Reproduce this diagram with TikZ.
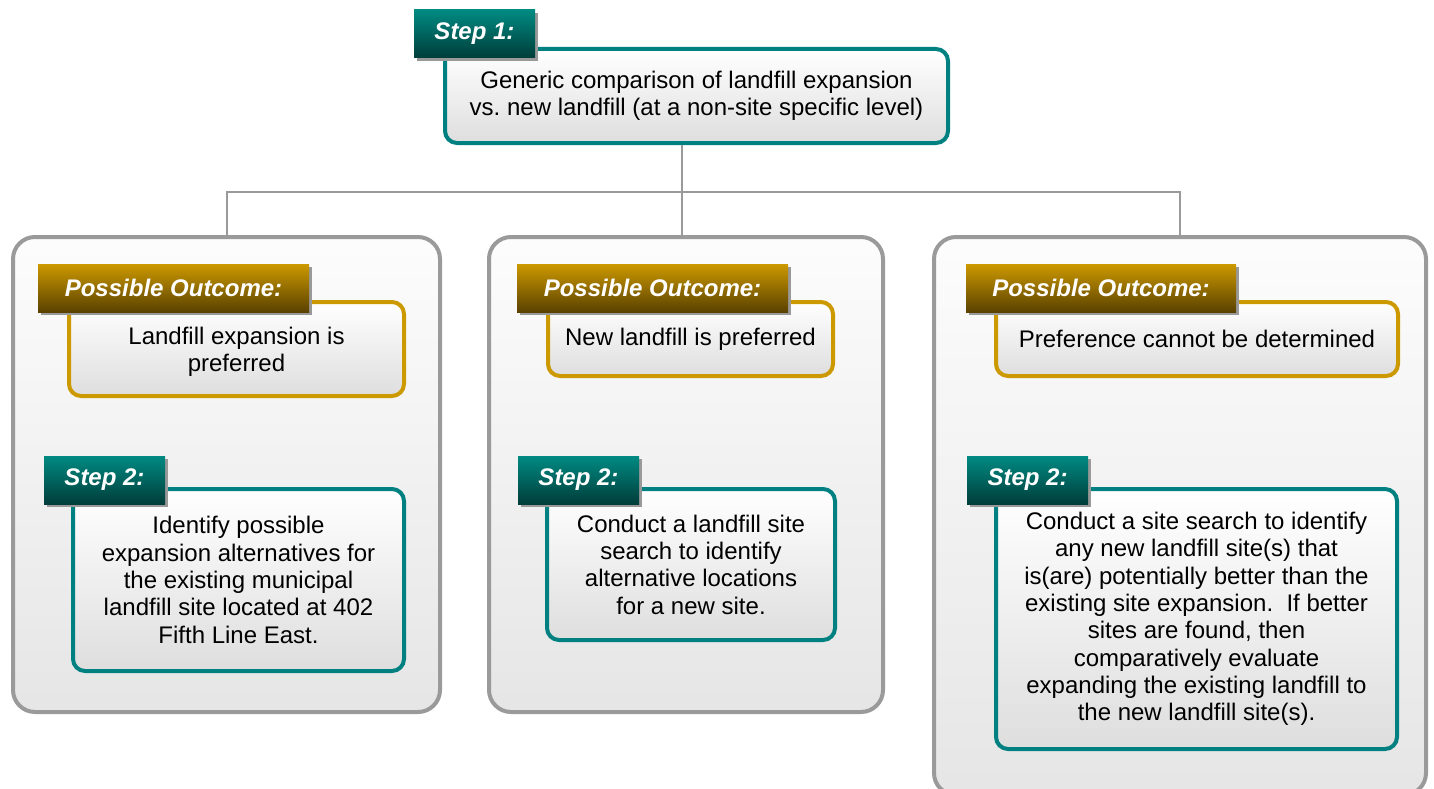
\documentclass[tikz,border=0pt]{standalone}
\usepackage{fontspec}
\setmainfont{Liberation Sans}
\usetikzlibrary{shadows}
\frenchspacing

\definecolor{tealline}{HTML}{008080}
\definecolor{teallight}{HTML}{008A82}
\definecolor{tealdark}{HTML}{003D3A}
\definecolor{goldline}{HTML}{CC9900}
\definecolor{golddark}{HTML}{5A4100}
\definecolor{frame}{HTML}{9A9A9A}

\begin{document}
\begin{tikzpicture}[
    x=1pt, y=-1pt,
    font=\fontsize{24}{27.3}\selectfont,
    column/.style={rectangle, draw=frame, line width=4pt, rounded corners=22pt, top color=black!1, bottom color=black!10},
    stepbox/.style={rectangle, draw=tealline, line width=4pt, rounded corners=12pt, align=center, top color=white, bottom color=black!13, inner sep=0pt},
    outcomebox/.style={stepbox, draw=goldline},
    steptag/.style={rectangle, minimum width=121pt, minimum height=48pt, inner sep=0pt, top color=teallight, bottom color=tealdark, text=white, font=\fontsize{24}{27.3}\selectfont\bfseries\itshape, drop shadow={shadow xshift=3pt, shadow yshift=-3pt, fill=black!40, opacity=1}},
    outcometag/.style={steptag, minimum width=271pt, top color=goldline, bottom color=golddark},
    link/.style={draw=frame, line width=2pt}
]
\useasboundingbox (0,0) rectangle (1434,789);

% columns
\node[column, minimum width=427pt, minimum height=475pt] (colA) at (226.5,474.5) {};
\node[column, minimum width=394pt, minimum height=475pt] (colB) at (686,474.5) {};
\node[column, minimum width=492pt, minimum height=558pt] (colC) at (1180,516) {};

% step 1
\node[stepbox, minimum width=503pt, minimum height=94pt] (stepone) at (696.5,96) {Generic comparison of landfill expansion\\vs. new landfill (at a non-site specific level)};
\node[steptag] (tagone) at (474.5,34) {Step 1:};

% tree
\coordinate (bus) at (682,192);
\draw[link] (bus |- stepone.south) -- (bus);
\draw[link] (colA.north) |- (bus) -| (colC.north);
\draw[link] (bus) -- (bus |- colB.north);

% outcomes
\node[outcomebox, minimum width=335pt, minimum height=94pt] (outA) at (236.5,349) {\rule{0pt}{23pt}Landfill expansion is\\preferred};
\node[outcomebox, minimum width=285pt, minimum height=74pt] (outB) at (690.5,339) {New landfill is preferred};
\node[outcomebox, minimum width=402pt, minimum height=74pt] (outC) at (1197,339) {Preference cannot be determined};
\node[outcometag] (otagA) at (173.5,288) {Possible Outcome:};
\node[outcometag] (otagB) at (652.5,288) {Possible Outcome:};
\node[outcometag, minimum width=270pt] (otagC) at (1101,288) {Possible Outcome:};

% step 2
\node[stepbox, minimum width=331pt, minimum height=182pt] (twoA) at (238.5,580) {Identify possible\\expansion alternatives for\\the existing municipal\\landfill site located at 402\\Fifth Line East.};
\node[stepbox, minimum width=288pt, minimum height=151pt] (twoB) at (691,564.5) {Conduct a landfill site\\search to identify\\alternative locations\\for a new site.};
\node[stepbox, minimum width=401pt, minimum height=260pt] (twoC) at (1196.5,619) {Conduct a site search to identify\\any new landfill site(s) that\\is(are) potentially better than the\\existing site expansion.\ \ If better\\sites are found, then\\comparatively evaluate\\expanding the existing landfill to\\the new landfill site(s).};
\node[steptag] (tagA) at (104.5,480) {Step 2:};
\node[steptag] (tagB) at (578.5,480) {Step 2:};
\node[steptag] (tagC) at (1027.5,480) {Step 2:};
\end{tikzpicture}
\end{document}
